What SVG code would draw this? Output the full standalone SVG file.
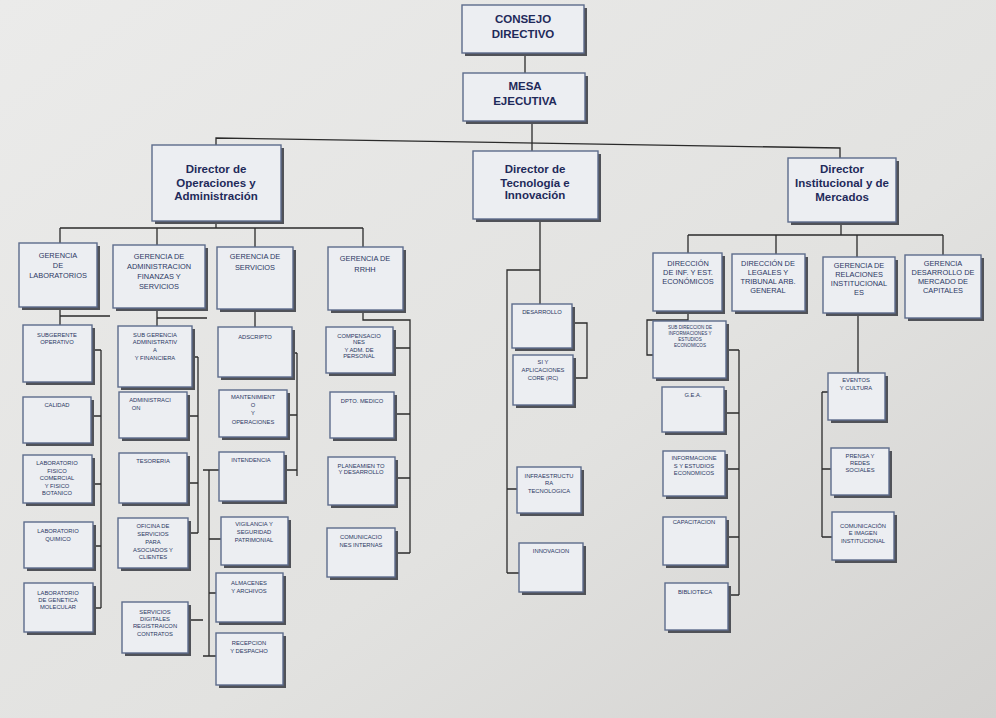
<svg xmlns="http://www.w3.org/2000/svg" width="996" height="718" viewBox="0 0 996 718">
<defs>
<linearGradient id="bg" x1="0" y1="0" x2="1" y2="1">
<stop offset="0" stop-color="#ebebea"/>
<stop offset="0.6" stop-color="#e2e2e0"/>
<stop offset="1" stop-color="#d3d2d0"/>
</linearGradient>
</defs>
<style>
.sh{fill:#505258}
.bx{fill:#eceef2;stroke:#5d6c8c;stroke-width:1.4}
.t{font-family:"Liberation Sans",Arial,sans-serif;fill:#2b3763;text-anchor:middle}
.big{font-size:11.5px;font-weight:bold;fill:#1f2a5a}
.dir{font-size:11.5px;font-weight:bold;fill:#1f2a5a}
.g{font-size:7.4px}
.s{font-size:5.8px}
.xs{font-size:4.6px}
.c{fill:none;stroke:#2b2b2b;stroke-width:1.3}
</style>
<rect width="996" height="718" fill="url(#bg)"/>

<g id="connectors" class="c">
<path d="M525,53V73"/>
<path d="M532,121V151"/>
<path d="M216,145V138L840,148V158"/>
<path d="M216,221V228M60,228H363M60,228V243M157,228V245M255,228V247M363,228V247"/>
<path d="M60,307V325M60,316H110"/>
<path d="M157,308V326M157,318H207"/>
<path d="M255,309V327"/>
<path d="M363,310V320H410V553M393,348H410M394,414H410M395,478H410M395,553H410"/>
<path d="M101,350V608M92,350H101M91,416H101M92,484H101M93,546H101M93,608H101"/>
<path d="M198,357V533M192,357H198M187,416H198M187,483H198M188,533H198M188,620H203"/>
<path d="M297,353V476M292,353H297M287,415H297M284,470H297"/>
<path d="M209,470V656M203,470H219M209,539H221M209,593H216M203,656H216"/>
<path d="M540,219V304M540,270H507V573M507,489H517M507,573H519"/>
<path d="M572,323H587V378H573"/>
<path d="M841,222V235M688,235H943M688,235V253M776,235V254M857,235V257M943,235V255"/>
<path d="M688,311V320H647V355H653"/>
<path d="M739,350V595M726,350H739M724,413H739M725,469H739M726,537H739M728,595H739"/>
<path d="M858,313V373M822,392V537M822,392H828M822,469H831M822,537H832"/>
</g>

<g id="consejo"><rect class="sh" x="465" y="8" width="122" height="48"/><rect class="bx" x="462" y="5" width="122" height="48"/>
<text class="t big" x="523" y="23">CONSEJO</text><text class="t big" x="523" y="38">DIRECTIVO</text></g>
<g id="mesa"><rect class="sh" x="466" y="76" width="122" height="48"/><rect class="bx" x="463" y="73" width="122" height="48"/>
<text class="t big" x="525" y="90">MESA</text><text class="t big" x="525" y="105">EJECUTIVA</text></g>

<g id="dir-operaciones"><rect class="sh" x="155" y="148" width="129" height="76"/><rect class="bx" x="152" y="145" width="129" height="76"/>
<text class="t dir" x="216" y="173">Director de</text><text class="t dir" x="216" y="187">Operaciones y</text><text class="t dir" x="216" y="200">Administración</text></g>
<g id="dir-tecnologia"><rect class="sh" x="476" y="154" width="125" height="68"/><rect class="bx" x="473" y="151" width="125" height="68"/>
<text class="t dir" x="535" y="173">Director de</text><text class="t dir" x="535" y="187">Tecnología e</text><text class="t dir" x="535" y="199">Innovación</text></g>
<g id="dir-institucional"><rect class="sh" x="791" y="161" width="108" height="64"/><rect class="bx" x="788" y="158" width="108" height="64"/>
<text class="t dir" x="842" y="173">Director</text><text class="t dir" x="842" y="187">Institucional y de</text><text class="t dir" x="842" y="201">Mercados</text></g>

<g id="ger-laboratorios"><rect class="sh" x="22" y="246" width="78" height="64"/><rect class="bx" x="19" y="243" width="78" height="64"/>
<text class="t g" x="58" y="258">GERENCIA</text><text class="t g" x="58" y="268">DE</text><text class="t g" x="58" y="278">LABORATORIOS</text></g>
<g id="ger-admin"><rect class="sh" x="116" y="248" width="92" height="63"/><rect class="bx" x="113" y="245" width="92" height="63"/>
<text class="t g" x="159" y="259">GERENCIA DE</text><text class="t g" x="159" y="269">ADMINISTRACION</text><text class="t g" x="159" y="279">FINANZAS Y</text><text class="t g" x="159" y="289">SERVICIOS</text></g>
<g id="ger-servicios"><rect class="sh" x="220" y="250" width="76" height="62"/><rect class="bx" x="217" y="247" width="76" height="62"/>
<text class="t g" x="255" y="259">GERENCIA DE</text><text class="t g" x="255" y="270">SERVICIOS</text></g>
<g id="ger-rrhh"><rect class="sh" x="331" y="250" width="75" height="63"/><rect class="bx" x="328" y="247" width="75" height="63"/>
<text class="t g" x="365" y="261">GERENCIA DE</text><text class="t g" x="365" y="272">RRHH</text></g>

<g id="subgerente-operativo"><rect class="sh" x="26" y="328" width="69" height="57"/><rect class="bx" x="23" y="325" width="69" height="57"/>
<text class="t s" x="57" y="337">SUBGERENTE</text><text class="t s" x="57" y="344">OPERATIVO</text></g>
<g id="calidad"><rect class="sh" x="26" y="400" width="68" height="46"/><rect class="bx" x="23" y="397" width="68" height="46"/>
<text class="t s" x="57" y="407">CALIDAD</text></g>
<g id="lab-fisico"><rect class="sh" x="26" y="458" width="69" height="48"/><rect class="bx" x="23" y="455" width="69" height="48"/>
<text class="t s" x="57" y="465">LABORATORIO</text><text class="t s" x="57" y="473">FISICO</text><text class="t s" x="57" y="480">COMERCIAL</text><text class="t s" x="57" y="488">Y FISICO</text><text class="t s" x="57" y="495">BOTANICO</text></g>
<g id="lab-quimico"><rect class="sh" x="27" y="525" width="69" height="46"/><rect class="bx" x="24" y="522" width="69" height="46"/>
<text class="t s" x="58" y="533">LABORATORIO</text><text class="t s" x="58" y="541">QUIMICO</text></g>
<g id="lab-genetica"><rect class="sh" x="27" y="586" width="69" height="49"/><rect class="bx" x="24" y="583" width="69" height="49"/>
<text class="t s" x="58" y="595">LABORATORIO</text><text class="t s" x="58" y="602">DE GENETICA</text><text class="t s" x="58" y="609">MOLECULAR</text></g>

<g id="subgerencia-admin"><rect class="sh" x="121" y="329" width="74" height="61"/><rect class="bx" x="118" y="326" width="74" height="61"/>
<text class="t s" x="155" y="337">SUB GERENCIA</text><text class="t s" x="155" y="344">ADMINISTRATIV</text><text class="t s" x="155" y="352">A</text><text class="t s" x="155" y="360">Y FINANCIERA</text></g>
<g id="administracion"><rect class="sh" x="122" y="395" width="68" height="46"/><rect class="bx" x="119" y="392" width="68" height="46"/>
<text class="t s" x="150" y="402">ADMINISTRACI</text><text class="t s" x="136" y="410">ON</text></g>
<g id="tesoreria"><rect class="sh" x="122" y="456" width="68" height="50"/><rect class="bx" x="119" y="453" width="68" height="50"/>
<text class="t s" x="153" y="463">TESORERIA</text></g>
<g id="oficina-servicios"><rect class="sh" x="121" y="521" width="70" height="50"/><rect class="bx" x="118" y="518" width="70" height="50"/>
<text class="t s" x="153" y="528">OFICINA DE</text><text class="t s" x="153" y="536">SERVICIOS</text><text class="t s" x="153" y="544">PARA</text><text class="t s" x="153" y="552">ASOCIADOS Y</text><text class="t s" x="153" y="559">CLIENTES</text></g>
<g id="servicios-digitales"><rect class="sh" x="125" y="605" width="66" height="51"/><rect class="bx" x="122" y="602" width="66" height="51"/>
<text class="t s" x="155" y="614">SERVICIOS</text><text class="t s" x="155" y="621">DIGITALES</text><text class="t s" x="155" y="628">REGISTRAICON</text><text class="t s" x="155" y="636">CONTRATOS</text></g>

<g id="adscripto"><rect class="sh" x="221" y="330" width="74" height="50"/><rect class="bx" x="218" y="327" width="74" height="50"/>
<text class="t s" x="255" y="339">ADSCRIPTO</text></g>
<g id="mantenimiento"><rect class="sh" x="222" y="393" width="68" height="47"/><rect class="bx" x="219" y="390" width="68" height="47"/>
<text class="t s" x="253" y="399">MANTENIMIENT</text><text class="t s" x="253" y="407">O</text><text class="t s" x="253" y="415">Y</text><text class="t s" x="253" y="424">OPERACIONES</text></g>
<g id="intendencia"><rect class="sh" x="222" y="455" width="65" height="49"/><rect class="bx" x="219" y="452" width="65" height="49"/>
<text class="t s" x="251" y="462">INTENDENCIA</text></g>
<g id="vigilancia"><rect class="sh" x="224" y="520" width="67" height="48"/><rect class="bx" x="221" y="517" width="67" height="48"/>
<text class="t s" x="254" y="526">VIGILANCIA Y</text><text class="t s" x="254" y="534">SEGURIDAD</text><text class="t s" x="254" y="542">PATRIMONIAL</text></g>
<g id="almacenes"><rect class="sh" x="219" y="576" width="67" height="49"/><rect class="bx" x="216" y="573" width="67" height="49"/>
<text class="t s" x="249" y="585">ALMACENES</text><text class="t s" x="249" y="593">Y ARCHIVOS</text></g>
<g id="recepcion"><rect class="sh" x="219" y="636" width="67" height="52"/><rect class="bx" x="216" y="633" width="67" height="52"/>
<text class="t s" x="249" y="645">RECEPCION</text><text class="t s" x="249" y="653">Y DESPACHO</text></g>

<g id="compensaciones"><rect class="sh" x="329" y="330" width="67" height="46"/><rect class="bx" x="326" y="327" width="67" height="46"/>
<text class="t s" x="359" y="338">COMPENSACIO</text><text class="t s" x="359" y="344">NES</text><text class="t s" x="359" y="352">Y ADM. DE</text><text class="t s" x="359" y="358">PERSONAL</text></g>
<g id="dpto-medico"><rect class="sh" x="333" y="395" width="64" height="46"/><rect class="bx" x="330" y="392" width="64" height="46"/>
<text class="t s" x="362" y="403">DPTO. MEDICO</text></g>
<g id="planeamiento"><rect class="sh" x="331" y="460" width="67" height="48"/><rect class="bx" x="328" y="457" width="67" height="48"/>
<text class="t s" x="361" y="468">PLANEAMIEN TO</text><text class="t s" x="361" y="474">Y DESARROLLO</text></g>
<g id="comunicaciones-internas"><rect class="sh" x="330" y="531" width="68" height="49"/><rect class="bx" x="327" y="528" width="68" height="49"/>
<text class="t s" x="361" y="539">COMUNICACIO</text><text class="t s" x="361" y="547">NES INTERNAS</text></g>

<g id="desarrollo"><rect class="sh" x="515" y="307" width="60" height="44"/><rect class="bx" x="512" y="304" width="60" height="44"/>
<text class="t s" x="542" y="314">DESARROLLO</text></g>
<g id="si-aplicaciones"><rect class="sh" x="516" y="358" width="60" height="50"/><rect class="bx" x="513" y="355" width="60" height="50"/>
<text class="t s" x="543" y="364">SI Y</text><text class="t s" x="543" y="372">APLICACIONES</text><text class="t s" x="543" y="380">CORE (RC)</text></g>
<g id="infraestructura"><rect class="sh" x="520" y="470" width="64" height="46"/><rect class="bx" x="517" y="467" width="64" height="46"/>
<text class="t s" x="549" y="478">INFRAESTRUCTU</text><text class="t s" x="549" y="485">RA</text><text class="t s" x="549" y="493">TECNOLOGICA</text></g>
<g id="innovacion"><rect class="sh" x="522" y="546" width="64" height="49"/><rect class="bx" x="519" y="543" width="64" height="49"/>
<text class="t s" x="551" y="553">INNOVACION</text></g>

<g id="dir-inf-est"><rect class="sh" x="656" y="256" width="69" height="58"/><rect class="bx" x="653" y="253" width="69" height="58"/>
<text class="t g" x="688" y="266">DIRECCIÓN</text><text class="t g" x="688" y="275">DE INF. Y EST.</text><text class="t g" x="688" y="284">ECONÓMICOS</text></g>
<g id="dir-legales"><rect class="sh" x="735" y="257" width="73" height="57"/><rect class="bx" x="732" y="254" width="73" height="57"/>
<text class="t g" x="768" y="266">DIRECCIÓN DE</text><text class="t g" x="768" y="275">LEGALES Y</text><text class="t g" x="768" y="284">TRIBUNAL ARB.</text><text class="t g" x="768" y="293">GENERAL</text></g>
<g id="ger-relaciones"><rect class="sh" x="826" y="260" width="72" height="56"/><rect class="bx" x="823" y="257" width="72" height="56"/>
<text class="t g" x="859" y="268">GERENCIA DE</text><text class="t g" x="859" y="277">RELACIONES</text><text class="t g" x="859" y="286">INSTITUCIONAL</text><text class="t g" x="859" y="295">ES</text></g>
<g id="ger-mercado"><rect class="sh" x="908" y="258" width="76" height="63"/><rect class="bx" x="905" y="255" width="76" height="63"/>
<text class="t g" x="943" y="266">GERENCIA</text><text class="t g" x="943" y="275">DESARROLLO DE</text><text class="t g" x="943" y="284">MERCADO DE</text><text class="t g" x="943" y="293">CAPITALES</text></g>

<g id="subdir-informaciones"><rect class="sh" x="656" y="324" width="73" height="57"/><rect class="bx" x="653" y="321" width="73" height="57"/>
<text class="t xs" x="690" y="329">SUB DIRECCION DE</text><text class="t xs" x="690" y="335">INFORMACIONES Y</text><text class="t xs" x="690" y="341">ESTUDIOS</text><text class="t xs" x="690" y="347">ECONOMICOS</text></g>
<g id="gea"><rect class="sh" x="665" y="390" width="62" height="45"/><rect class="bx" x="662" y="387" width="62" height="45"/>
<text class="t s" x="693" y="397">G.E.A.</text></g>
<g id="informaciones-estudios"><rect class="sh" x="666" y="454" width="62" height="45"/><rect class="bx" x="663" y="451" width="62" height="45"/>
<text class="t s" x="694" y="460">INFORMACIONE</text><text class="t s" x="694" y="468">S Y ESTUDIOS</text><text class="t s" x="694" y="475">ECONOMICOS</text></g>
<g id="capacitacion"><rect class="sh" x="666" y="520" width="63" height="48"/><rect class="bx" x="663" y="517" width="63" height="48"/>
<text class="t s" x="694" y="524">CAPACITACION</text></g>
<g id="biblioteca"><rect class="sh" x="668" y="586" width="63" height="47"/><rect class="bx" x="665" y="583" width="63" height="47"/>
<text class="t s" x="695" y="594">BIBLIOTECA</text></g>

<g id="eventos"><rect class="sh" x="831" y="376" width="57" height="47"/><rect class="bx" x="828" y="373" width="57" height="47"/>
<text class="t s" x="856" y="382">EVENTOS</text><text class="t s" x="856" y="390">Y CULTURA</text></g>
<g id="prensa"><rect class="sh" x="834" y="451" width="58" height="47"/><rect class="bx" x="831" y="448" width="58" height="47"/>
<text class="t s" x="860" y="458">PRENSA Y</text><text class="t s" x="860" y="465">REDES</text><text class="t s" x="860" y="472">SOCIALES</text></g>
<g id="comunicacion-imagen"><rect class="sh" x="835" y="515" width="62" height="48"/><rect class="bx" x="832" y="512" width="62" height="48"/>
<text class="t s" x="863" y="528">COMUNICACIÓN</text><text class="t s" x="863" y="535">E IMAGEN</text><text class="t s" x="863" y="543">INSTITUCIONAL</text></g>
</svg>
